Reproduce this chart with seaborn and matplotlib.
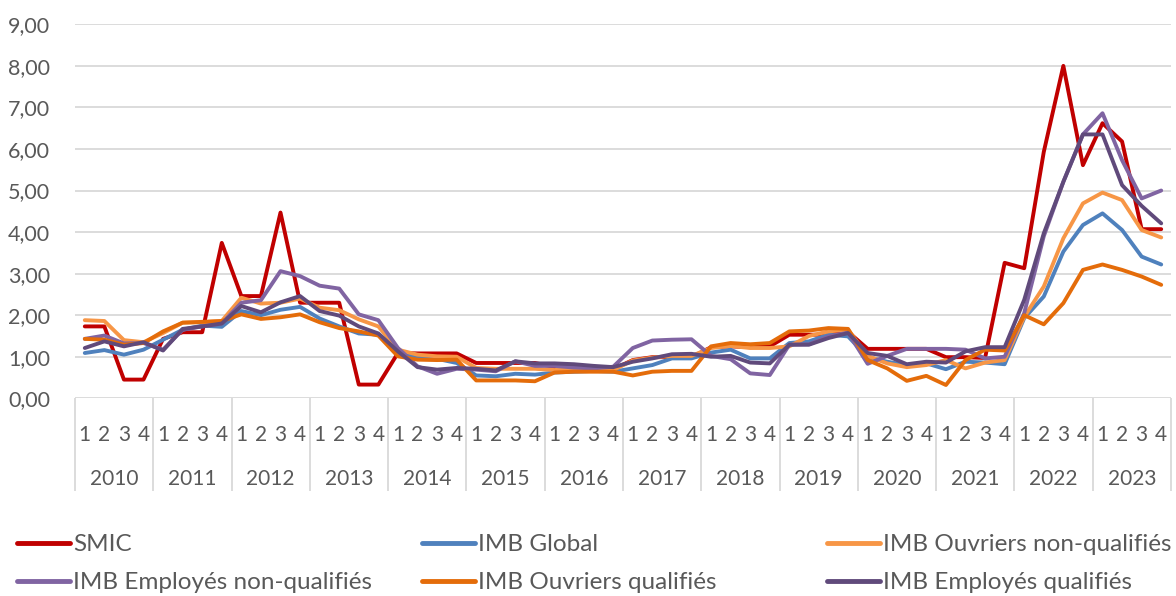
import pandas as pd
import matplotlib.pyplot as plt
import seaborn as sns

annees = list(range(2010, 2024))
trimestres = ["1", "2", "3", "4"]

smic = [1.73, 1.73, 0.45, 0.45, 1.43, 1.59, 1.59, 3.74, 2.46, 2.46, 4.47, 2.30,
        2.30, 2.30, 0.33, 0.33, 1.09, 1.08, 1.08, 1.08, 0.85, 0.85, 0.85, 0.85,
        0.75, 0.75, 0.72, 0.70, 0.92, 0.99, 0.99, 0.99, 1.23, 1.25, 1.23, 1.25,
        1.53, 1.53, 1.53, 1.60, 1.19, 1.19, 1.19, 1.19, 0.99, 0.99, 0.97, 3.26,
        3.13, 5.93, 8.00, 5.61, 6.62, 6.18, 4.07, 4.07]
imb_global = [1.09, 1.16, 1.05, 1.17, 1.41, 1.65, 1.75, 1.72, 2.10, 2.00, 2.13, 2.20,
              1.92, 1.73, 1.56, 1.53, 1.09, 0.99, 0.95, 0.85, 0.55, 0.53, 0.59, 0.57,
              0.62, 0.64, 0.66, 0.64, 0.72, 0.80, 0.96, 0.96, 1.10, 1.17, 0.96, 0.96,
              1.33, 1.37, 1.53, 1.49, 0.99, 0.88, 0.80, 0.84, 0.70, 0.88, 0.86, 0.82,
              1.93, 2.45, 3.53, 4.17, 4.45, 4.05, 3.41, 3.22]
ouvriers_nq = [1.88, 1.86, 1.40, 1.35, 1.57, 1.82, 1.83, 1.86, 2.42, 2.28, 2.30, 2.40,
               2.18, 2.12, 1.90, 1.73, 1.17, 1.05, 1.01, 1.00, 0.73, 0.71, 0.71, 0.71,
               0.68, 0.72, 0.75, 0.68, 0.91, 0.98, 1.02, 1.02, 1.21, 1.26, 1.21, 1.21,
               1.25, 1.50, 1.61, 1.65, 1.02, 0.84, 0.75, 0.80, 0.92, 0.72, 0.86, 0.92,
               1.96, 2.69, 3.85, 4.69, 4.95, 4.77, 4.05, 3.87]
employes_nq = [1.43, 1.51, 1.32, 1.33, 1.17, 1.65, 1.73, 1.80, 2.30, 2.36, 3.06, 2.94,
               2.71, 2.64, 2.02, 1.88, 1.21, 0.77, 0.59, 0.71, 0.69, 0.65, 0.89, 0.78,
               0.78, 0.74, 0.72, 0.76, 1.21, 1.39, 1.41, 1.42, 1.02, 0.94, 0.60, 0.56,
               1.29, 1.30, 1.49, 1.58, 0.83, 1.02, 1.19, 1.19, 1.19, 1.17, 0.96, 1.00,
               2.05, 3.90, 5.21, 6.35, 6.86, 5.73, 4.81, 5.00]
ouvriers_q = [1.43, 1.41, 1.29, 1.33, 1.61, 1.82, 1.84, 1.86, 2.02, 1.91, 1.95, 2.02,
              1.83, 1.69, 1.61, 1.51, 1.01, 0.93, 0.92, 0.93, 0.43, 0.43, 0.43, 0.41,
              0.62, 0.64, 0.64, 0.64, 0.55, 0.64, 0.66, 0.66, 1.25, 1.33, 1.30, 1.33,
              1.61, 1.63, 1.69, 1.67, 0.92, 0.72, 0.42, 0.54, 0.32, 0.92, 1.17, 1.15,
              2.00, 1.78, 2.29, 3.09, 3.22, 3.09, 2.93, 2.73]
employes_q = [1.21, 1.37, 1.25, 1.35, 1.15, 1.67, 1.73, 1.80, 2.22, 2.07, 2.31, 2.46,
              2.10, 1.99, 1.73, 1.56, 1.13, 0.75, 0.69, 0.73, 0.71, 0.67, 0.89, 0.84,
              0.84, 0.82, 0.78, 0.75, 0.88, 0.96, 1.06, 1.07, 1.00, 1.02, 0.86, 0.84,
              1.29, 1.29, 1.45, 1.57, 1.09, 1.02, 0.82, 0.88, 0.86, 1.13, 1.23, 1.23,
              2.37, 3.97, 5.21, 6.35, 6.35, 5.13, 4.63, 4.21]

series = {
    "SMIC": smic,
    "IMB Global": imb_global,
    "IMB Ouvriers non-qualifiés": ouvriers_nq,
    "IMB Employés non-qualifiés": employes_nq,
    "IMB Ouvriers qualifiés": ouvriers_q,
    "IMB Employés qualifiés": employes_q,
}
couleurs = {
    "SMIC": "#C00000",
    "IMB Global": "#4F81BD",
    "IMB Ouvriers non-qualifiés": "#F79646",
    "IMB Employés non-qualifiés": "#8064A2",
    "IMB Ouvriers qualifiés": "#E46C0A",
    "IMB Employés qualifiés": "#604A7B",
}

n = len(annees) * 4
df = pd.concat([pd.DataFrame({"idx": range(n), "val": v, "serie": k})
                for k, v in series.items()], ignore_index=True)

sns.set_style("white")
plt.rcParams["font.family"] = ["Lato", "DejaVu Sans"]
gris = "#595959"

fig = plt.figure(figsize=(11.76, 5.96), dpi=100)
ax = fig.add_axes([75 / 1176, 1 - 398.3 / 596, 1096 / 1176, 374 / 596])

sns.lineplot(data=df, x="idx", y="val", hue="serie", palette=couleurs,
             hue_order=list(series), linewidth=2.8, ax=ax)
handles, labels = ax.get_legend_handles_labels()
ax.get_legend().remove()

ax.set_xlim(-0.5, n - 0.5)
ax.set_ylim(0, 9)
ax.set_yticks(range(10))
ax.set_yticklabels([f"{v:.2f}".replace(".", ",") for v in range(10)])
ax.yaxis.grid(True, color="#D9D9D9", linewidth=1.3)
ax.set_axisbelow(True)
for s in ax.spines.values():
    s.set_visible(False)
ax.set_xlabel("")
ax.set_ylabel("")

# quarters as major ticks, year boundaries as long minor ticks
ax.set_xticks(range(n))
ax.set_xticklabels(trimestres * len(annees))
ax.set_xticks([-0.5 + 4 * k for k in range(len(annees) + 1)], minor=True)
ax.tick_params(axis="x", which="both", bottom=True)
ax.tick_params(axis="x", which="major", length=0, pad=19, labelsize=15, labelcolor=gris)
ax.tick_params(axis="x", which="minor", length=67, width=1.3, color="#D9D9D9", direction="out")
ax.tick_params(axis="y", length=0, pad=18, labelsize=15.5, labelcolor=gris)

for k, a in enumerate(annees):
    ax.text(4 * k + 1.5, -0.215, str(a), transform=ax.get_xaxis_transform(),
            ha="center", va="center", fontsize=15, color=gris)

# legend laid out in three fixed columns, row by row
for c in range(3):
    h = [handles[c], handles[c + 3]]
    l = [labels[c], labels[c + 3]]
    leg = fig.legend(h, l, loc="upper left", bbox_to_anchor=((17 + 405 * c) / 1176, 1 - 534 / 596),
                     frameon=False, fontsize=17.5, handlelength=2.2, handletextpad=0.12,
                     labelspacing=0.7, borderaxespad=0, borderpad=0)
    for t in leg.get_texts():
        t.set_color(gris)
    for ln in leg.get_lines():
        ln.set_linewidth(3.5)

fig.savefig("out.png", dpi=100)
